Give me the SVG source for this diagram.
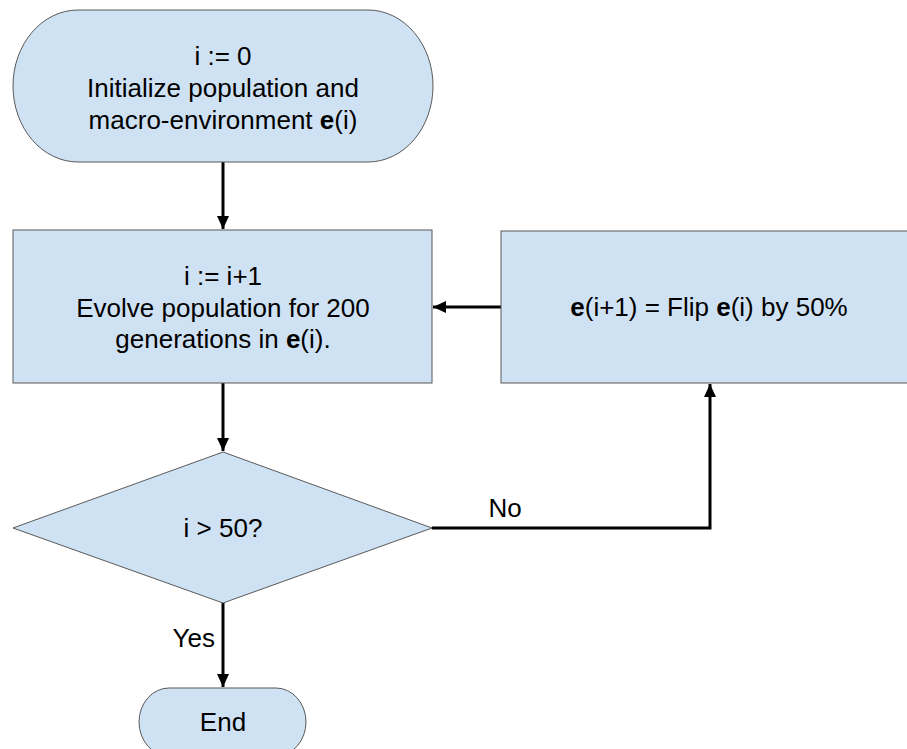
<svg xmlns="http://www.w3.org/2000/svg" width="907" height="749" viewBox="0 0 907 749">
<style>
.shape{fill:#cfe2f3;stroke:#595959;stroke-width:1}
.t{font-family:"Liberation Sans",Arial,sans-serif;font-size:26px;fill:#000;text-anchor:middle}
.b{font-weight:bold}
.conn{fill:none;stroke:#000;stroke-width:3}
</style>
<defs>
<marker id="arr" markerUnits="userSpaceOnUse" markerWidth="14" markerHeight="12" refX="13" refY="6" orient="auto">
<path d="M0,0 L13,6 L0,12 Z" fill="#000"/>
</marker>
</defs>
<rect width="907" height="749" fill="#fff"/>
<g id="connectors">
<line class="conn" x1="223" y1="162" x2="223" y2="229" marker-end="url(#arr)"/>
<line class="conn" x1="501" y1="307" x2="433" y2="307" marker-end="url(#arr)"/>
<line class="conn" x1="223" y1="383" x2="223" y2="451" marker-end="url(#arr)"/>
<polyline class="conn" points="432,528 710,528 710,384" marker-end="url(#arr)"/>
<line class="conn" x1="223" y1="603" x2="223" y2="687" marker-end="url(#arr)"/>
<text class="t" x="505" y="517">No</text>
<text class="t" x="215" y="647" style="text-anchor:end">Yes</text>
</g>
<g id="start">
<rect class="shape" x="13" y="10" width="420" height="152" rx="65" ry="76"/>
<text class="t" x="223" y="65">i := 0</text>
<text class="t" x="223" y="97">Initialize population and</text>
<text class="t" x="223" y="129">macro-environment <tspan class="b">e</tspan>(i)</text>
</g>
<g id="evolve">
<rect class="shape" x="13" y="230" width="419" height="153"/>
<text class="t" x="223" y="285">i := i+1</text>
<text class="t" x="223" y="317">Evolve population for 200</text>
<text class="t" x="223" y="348">generations in <tspan class="b">e</tspan>(i).</text>
</g>
<g id="flip">
<rect class="shape" x="501" y="231" width="416" height="152"/>
<text class="t" x="709" y="316"><tspan class="b">e</tspan>(i+1) = Flip <tspan class="b">e</tspan>(i) by 50%</text>
</g>
<g id="decision">
<polygon class="shape" points="223,452 432,528 223,603 13,528"/>
<text class="t" x="223" y="537">i &gt; 50?</text>
</g>
<g id="end">
<rect class="shape" x="139" y="688" width="167" height="68" rx="30" ry="34"/>
<text class="t" x="223" y="731">End</text>
</g>
</svg>
